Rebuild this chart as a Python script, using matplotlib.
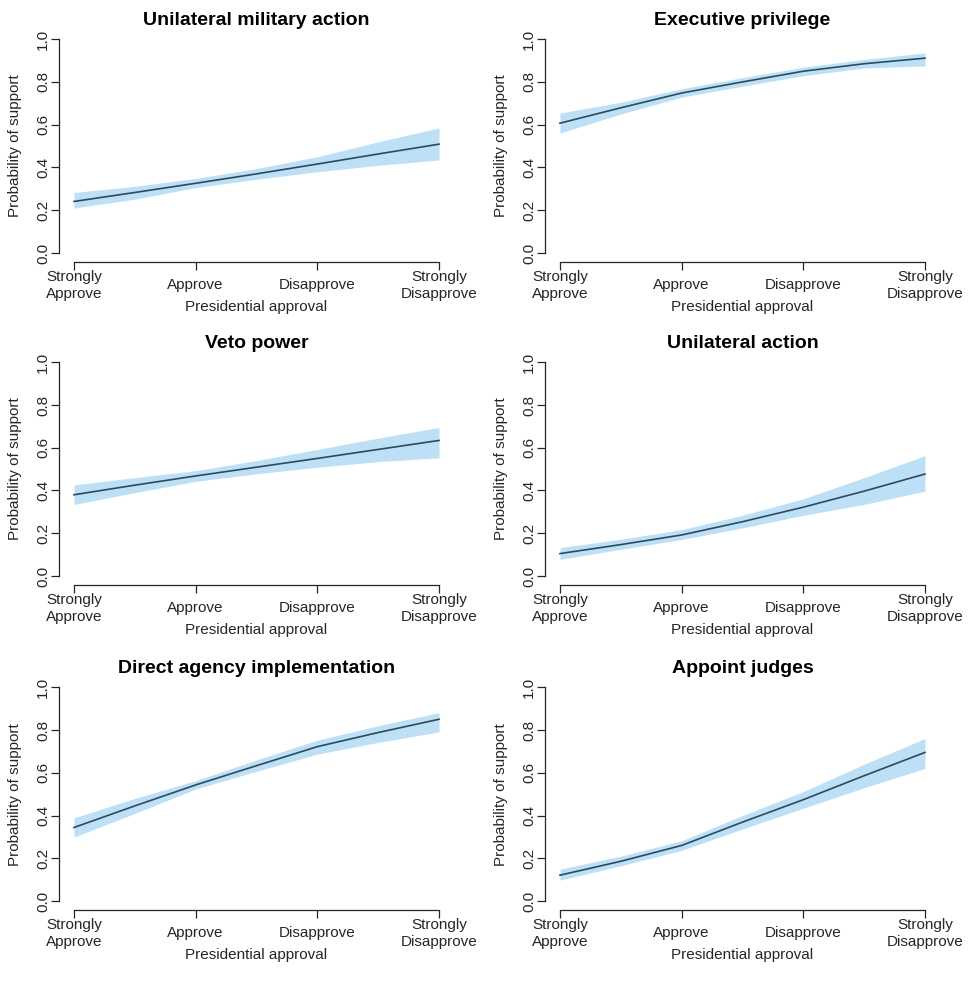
import numpy as np
import matplotlib as mpl
import matplotlib.pyplot as plt

mpl.use("Agg")

plt.rcParams.update({"font.family": ["Liberation Sans", "DejaVu Sans"]})
plt.rcParams.update({"font.size": 11})

# approval categories (x = 1..4) and points
categories = ["Strongly\nApprove", "Approve", "Disapprove", "Strongly\nDisapprove"]
approval = [1, 1.5, 2, 2.5, 3, 3.5, 4]

titles = [
    "Unilateral military action",
    "Executive privilege",
    "Veto power",
    "Unilateral action",
    "Direct agency implementation",
    "Appoint judges",
]

military_mean = [0.241, 0.283, 0.326, 0.370, 0.416, 0.463, 0.509]
military_lo = [0.210, 0.252, 0.306, 0.345, 0.380, 0.410, 0.435]
military_hi = [0.283, 0.312, 0.349, 0.395, 0.450, 0.520, 0.585]

privilege_mean = [0.607, 0.679, 0.748, 0.800, 0.850, 0.885, 0.911]
privilege_lo = [0.561, 0.650, 0.729, 0.780, 0.829, 0.865, 0.875]
privilege_hi = [0.654, 0.705, 0.768, 0.820, 0.869, 0.905, 0.936]

veto_mean = [0.380, 0.425, 0.468, 0.509, 0.550, 0.592, 0.634]
veto_lo = [0.335, 0.390, 0.443, 0.478, 0.509, 0.535, 0.553]
veto_hi = [0.426, 0.460, 0.493, 0.540, 0.592, 0.645, 0.695]

unilateral_mean = [0.105, 0.147, 0.192, 0.254, 0.322, 0.397, 0.477]
unilateral_lo = [0.078, 0.125, 0.171, 0.225, 0.284, 0.335, 0.397]
unilateral_hi = [0.133, 0.172, 0.217, 0.284, 0.361, 0.460, 0.563]

agency_mean = [0.344, 0.445, 0.543, 0.633, 0.722, 0.788, 0.850]
agency_lo = [0.299, 0.410, 0.524, 0.607, 0.687, 0.742, 0.791]
agency_hi = [0.389, 0.480, 0.563, 0.660, 0.752, 0.820, 0.881]

judges_mean = [0.121, 0.186, 0.260, 0.369, 0.474, 0.586, 0.695]
judges_lo = [0.098, 0.165, 0.237, 0.337, 0.434, 0.530, 0.620]
judges_hi = [0.149, 0.210, 0.282, 0.400, 0.512, 0.640, 0.760]

series = [
    (military_mean, military_lo, military_hi),
    (privilege_mean, privilege_lo, privilege_hi),
    (veto_mean, veto_lo, veto_hi),
    (unilateral_mean, unilateral_lo, unilateral_hi),
    (agency_mean, agency_lo, agency_hi),
    (judges_mean, judges_lo, judges_hi),
]

band_color = "#bde0f7"
line_color = "#2c4b5c"
text_color = "#262626"

fig = plt.figure(figsize=(9.77, 9.90), dpi=100)

col_left = [0.0608, 0.5582]
row_bottom = [0.7358, 0.4095, 0.0812]
ax_w = 0.4035
ax_h = 0.2333

for k, (title, (mean, lo, hi)) in enumerate(zip(titles, series)):
    row, col = divmod(k, 2)
    ax = fig.add_axes([col_left[col], row_bottom[row], ax_w, ax_h])
    ax.fill_between(approval, lo, hi, color=band_color, linewidth=0)
    ax.plot(approval, mean, color=line_color, linewidth=1.2)

    # R-style axes: 4% padding, axis lines only span the ticks
    ax.set_xlim(1 - 0.12, 4 + 0.12)
    ax.set_ylim(-0.04, 1.04)
    for side in ["top", "right"]:
        ax.spines[side].set_visible(False)
    ax.spines["left"].set_bounds(0, 1)
    ax.spines["bottom"].set_bounds(1, 4)
    for side in ["left", "bottom"]:
        ax.spines[side].set_linewidth(0.9)
        ax.spines[side].set_color(text_color)

    ax.set_yticks(np.arange(0, 1.01, 0.2), labels=["0.0", "0.2", "0.4", "0.6", "0.8", "1.0"])
    ax.set_xticks([1, 2, 3, 4], labels=categories)
    ax.tick_params(axis="both", length=6, width=0.9, color=text_color, labelcolor=text_color)
    ax.tick_params(axis="y", labelrotation=90, pad=0.5)
    ax.tick_params(axis="x", pad=11)
    for lab in ax.get_yticklabels():
        lab.set_va("center")
    for lab in ax.get_xticklabels():
        lab.set_va("center")
        lab.set_linespacing(1.3)

    ax.annotate(title, xy=(0.5, 1), xycoords="axes fraction", xytext=(0, 7.5),
                textcoords="offset points", ha="center", va="center",
                fontsize=14, fontweight="bold")
    ax.annotate("Presidential approval", xy=(0.5, 0), xycoords="axes fraction",
                xytext=(0, -33), textcoords="offset points", ha="center",
                va="center", color=text_color)
    ax.annotate("Probability of support", xy=(0, 0.5), xycoords="axes fraction",
                xytext=(-32, 0), textcoords="offset points", ha="center",
                va="center", rotation=90, color=text_color)

plt.savefig("out.png", dpi=100)
